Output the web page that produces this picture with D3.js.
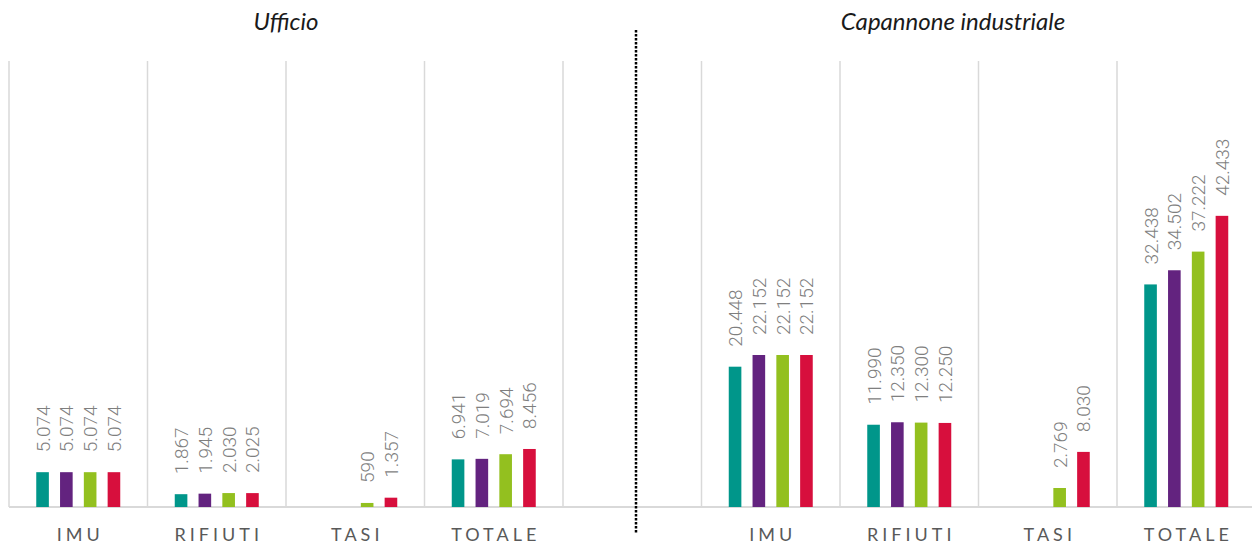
<!DOCTYPE html>
<html>
<head>
<meta charset="utf-8">
<script src="https://cdn.jsdelivr.net/npm/d3@7"></script>
<style>
  html, body { margin: 0; padding: 0; background: #fff; }
  svg { display: block; }
</style>
</head>
<body>
<div id="chart"></div>
<script>
// ---- data ----
const panels = ["Ufficio", "Capannone industriale"];
const categories = ["IMU", "RIFIUTI", "TASI", "TOTALE"];
const series = ["s1", "s2", "s3", "s4"];
const colors = ["#00968a", "#63237f", "#93c01f", "#d70f3d"];
const ufficioValues = [
  [5074, 5074, 5074, 5074],
  [1867, 1945, 2030, 2025],
  [null, null, 590, 1357],
  [6941, 7019, 7694, 8456]
];
const capannoneValues = [
  [20448, 22152, 22152, 22152],
  [11990, 12350, 12300, 12250],
  [null, null, 2769, 8030],
  [32438, 34502, 37222, 42433]
];
const yMax = 65000;

// ---- layout ----
const W = 1252, H = 547;
const svg = d3.select("#chart").append("svg").attr("width", W).attr("height", H);

const slots = [];
categories.forEach(c => slots.push("L-" + c));
slots.push("gap");
categories.forEach(c => slots.push("R-" + c));

const x = d3.scaleBand().domain(slots).range([9, 1255.5]).padding(0);
const xs = d3.scaleBand().domain(series).range([-42, 42]).paddingInner(0.47);
const y = d3.scaleLinear().domain([0, yMax]).range([507, 61]);

const it = d3.formatLocale({decimal: ",", thousands: ".", grouping: [3], currency: ["€", ""]});
const fmt = it.format(",d");

// gridlines (band boundaries)
const bounds = slots.map(s => x(s));
svg.append("g").selectAll("line").data(bounds).join("line")
  .attr("x1", d => d).attr("x2", d => d)
  .attr("y1", y(yMax)).attr("y2", y(0))
  .attr("stroke", "#d9d9d9").attr("stroke-width", 1.5);

// baseline
svg.append("line")
  .attr("x1", x.range()[0]).attr("x2", W)
  .attr("y1", y(0)).attr("y2", y(0))
  .attr("stroke", "#d9d9d9").attr("stroke-width", 2);

// data rows
const rows = [];
[ufficioValues, capannoneValues].forEach((vals, p) => {
  categories.forEach((c, ci) => {
    series.forEach((s, si) => {
      const v = vals[ci][si];
      if (v != null) rows.push({slot: (p === 0 ? "L-" : "R-") + c, s, si, v});
    });
  });
});

// bars
svg.append("g").selectAll("rect").data(rows).join("rect")
  .attr("x", d => x(d.slot) + x.bandwidth() / 2 + xs(d.s))
  .attr("width", xs.bandwidth())
  .attr("y", d => y(d.v))
  .attr("height", d => y(0) - y(d.v))
  .attr("fill", d => colors[d.si]);

// value labels
svg.append("g").selectAll("text").data(rows).join("text")
  .attr("transform", d => {
    const cx = x(d.slot) + x.bandwidth() / 2 + xs(d.s) + xs.bandwidth() / 2 + 7;
    return `translate(${cx},${y(d.v) - 20}) rotate(-90)`;
  })
  .attr("text-anchor", "start")
  .attr("font-family", "Roboto, sans-serif")
  .attr("font-weight", 300)
  .attr("font-size", 19)
  .attr("fill", "#7f7f7f")
  .text(d => fmt(d.v));

// category labels
const catSlots = slots.filter(s => s !== "gap");
svg.append("g").selectAll("text").data(catSlots).join("text")
  .attr("x", d => x(d) + x.bandwidth() / 2 + 2)
  .attr("y", 541)
  .attr("text-anchor", "middle")
  .attr("font-family", "Lato, sans-serif")
  .attr("font-size", 18)
  .attr("letter-spacing", 4)
  .attr("fill", "#595959")
  .text(d => d.slice(2));

// panel titles
svg.append("text")
  .attr("x", 286).attr("y", 30)
  .attr("text-anchor", "middle")
  .attr("font-family", "Lato, sans-serif")
  .attr("font-style", "italic")
  .attr("font-size", 24)
  .attr("fill", "#1a1a1a")
  .text(panels[0]);
svg.append("text")
  .attr("x", 953).attr("y", 30)
  .attr("text-anchor", "middle")
  .attr("font-family", "Lato, sans-serif")
  .attr("font-style", "italic")
  .attr("font-size", 24)
  .attr("fill", "#1a1a1a")
  .text(panels[1]);

// dotted separator
svg.append("line")
  .attr("x1", 636).attr("x2", 636)
  .attr("y1", 30).attr("y2", 533)
  .attr("stroke", "#000").attr("stroke-width", 2.5)
  .attr("stroke-dasharray", "2.5,1.5");
</script>
</body>
</html>
